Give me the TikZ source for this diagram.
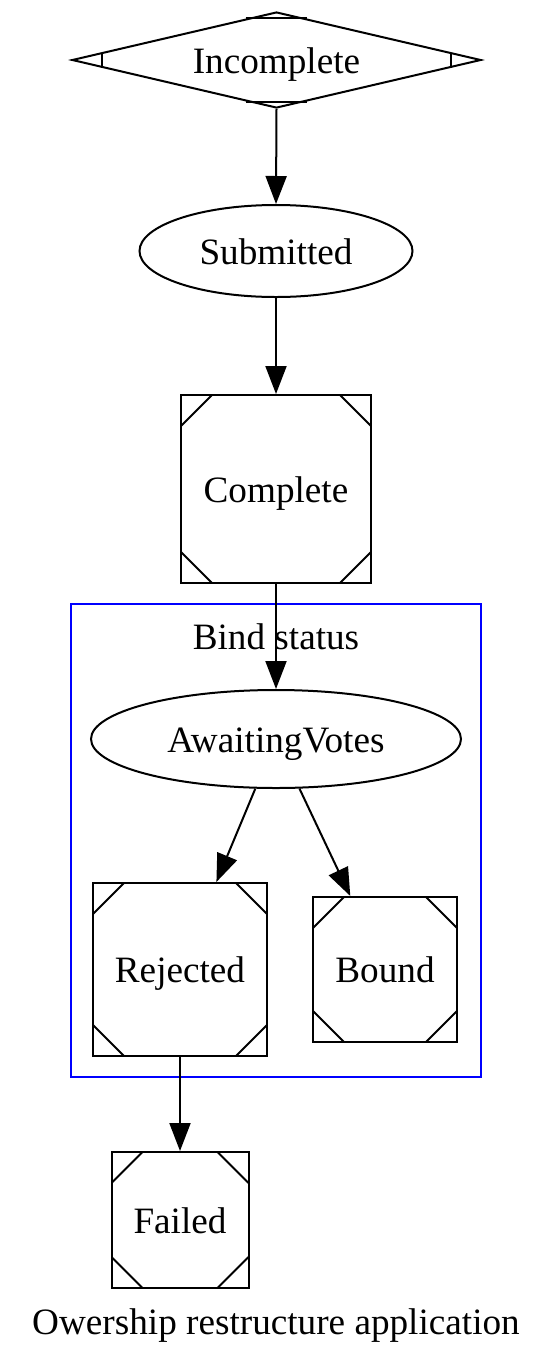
\documentclass[tikz,border=0pt]{standalone}
\usepackage{fontspec}
\setmainfont{Liberation Serif}
\usetikzlibrary{shapes.geometric,arrows.meta,calc}
\begin{document}
\begin{tikzpicture}[x=0.5pt,y=-0.5pt, line width=1pt,
  font=\fontsize{18.6}{22}\selectfont,
  every node/.style={text height=17pt, text depth=4pt},
  >={Triangle[length=14pt,width=10.5pt]},
  msq/.style n args={2}{draw, rectangle, inner sep=0pt, minimum width=#1, minimum height=#2,
    path picture={
      \draw ($(path picture bounding box.north west)+(15.5pt,0pt)$) -- ($(path picture bounding box.north west)+(0pt,-15.5pt)$);
      \draw ($(path picture bounding box.north east)+(-15.5pt,0pt)$) -- ($(path picture bounding box.north east)+(0pt,-15.5pt)$);
      \draw ($(path picture bounding box.south west)+(15.5pt,0pt)$) -- ($(path picture bounding box.south west)+(0pt,15.5pt)$);
      \draw ($(path picture bounding box.south east)+(-15.5pt,0pt)$) -- ($(path picture bounding box.south east)+(0pt,15.5pt)$);
    }},
  ell/.style n args={2}{draw, ellipse, inner sep=0pt, minimum width=#1, minimum height=#2},
  conn/.style={->},
  cluster/.style={draw=blue, line width=1pt}
]
\useasboundingbox (0,0) rectangle (552,1366);

% cluster
\node[cluster, rectangle, minimum width=205pt, minimum height=236.5pt, inner sep=0pt] (clu) at (276,840.5) {};
\node (clulabel) at (276,636) {Bind status};

% nodes
\node[draw, diamond, shape aspect=4.26, inner sep=0pt, minimum width=204.5pt, minimum height=48pt] (inc) at (276.5,60) {Incomplete};
\draw ($(inc.north)!0.15!(inc.west)$) -- ($(inc.north)!0.15!(inc.east)$);
\draw ($(inc.south)!0.15!(inc.west)$) -- ($(inc.south)!0.15!(inc.east)$);
\draw ($(inc.west)!0.15!(inc.north)$) -- ($(inc.west)!0.15!(inc.south)$);
\draw ($(inc.east)!0.15!(inc.north)$) -- ($(inc.east)!0.15!(inc.south)$);

\node[ell={136.5pt}{46pt}] (sub) at (276,251) {Submitted};
\node[msq={95pt}{94pt}] (comp) at (276,489) {Complete};
\node[ell={185pt}{49pt}] (aw) at (276,739) {AwaitingVotes};
\node[msq={87pt}{86.5pt}] (rej) at (180,969.5) {Rejected};
\node[msq={72pt}{72.5pt}] (bound) at (385,969.5) {Bound};
\node[msq={68.5pt}{68pt}] (fail) at (180,1220) {Failed};

\node (title) at (276,1321) {Owership restructure application};

% edges
\draw[conn] (inc.south) -- (sub.north);
\draw[conn] (sub.south) -- (comp.north);
\draw[conn] (comp.south) -- (aw.north);
\draw[conn] (aw) -- (rej);
\draw[conn] (aw) -- (bound);
\draw[conn] (rej.south) -- (fail.north);
\end{tikzpicture}
\end{document}
